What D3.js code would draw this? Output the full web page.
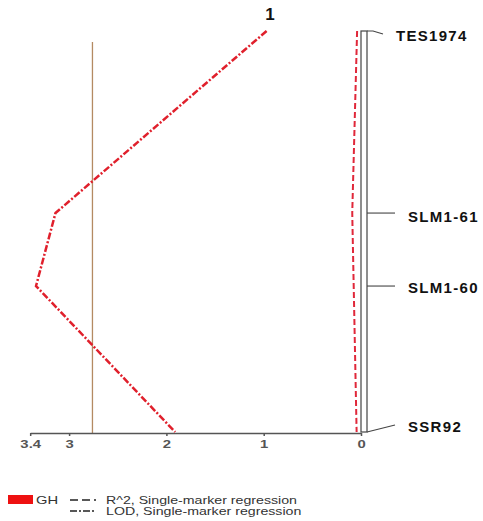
<!DOCTYPE html>
<html>
<head>
<meta charset="utf-8">
<script src="https://cdn.jsdelivr.net/npm/d3@7"></script>
<style>
	body{ margin: 0; background: #fff; }
	svg{ font-family: Arial, "Liberation Sans", sans-serif; }
	.marker-label{ font-weight: bold; font-size: 15px; letter-spacing: 1.3px; fill: #111; }
	.axis text{ font-size: 11px; font-weight: bold; fill: #555; }
	.axis path, .axis line{ stroke: #555; stroke-width: 1.5; }
	.legend text{ font-size: 10.5px; fill: #333; }
</style>
</head>
<body>
<div id="chart"></div>
<script>
	// linkage group 1, markers and map positions (cM)
	const markers = ['TES1974', 'SLM1-61', 'SLM1-60', 'SSR92'];
	const positions = [0, 45.4, 63.6, 100];
	// single-marker regression results for GH
	const lodValues = [0.97, 3.14, 3.34, 1.91];
	const r2Values = [0.04, 0.09, 0.075, 0.045];
	const lodThreshold = 2.76;
	const tickValues = [3.4, 3, 2, 1, 0];
	const tickLabels = ['3.4', '3', '2', '1', '0'];
	const groupName = '1';
	const traitName = 'GH';
	const legendLabels = ['R^2, Single-marker regression', 'LOD, Single-marker regression'];

	const width = 483, height = 521;
	const svg = d3.select('#chart').append('svg')
		.attr('width', width)
		.attr('height', height);

	// the picture is a little stretched sideways, widen text to match
	const stretch = (sel, k) => sel.each(function(){
		const w = this.getComputedTextLength();
		d3.select(this).attr('textLength', w * k).attr('lengthAdjust', 'spacingAndGlyphs');
	});

	let x = d3.scaleLinear().domain([0, 3.4]).range([361, 361 - 3.4 * 97.3]);
	let y = d3.scaleLinear().domain([0, 100]).range([31, 432]);
	const axisY = 433;

	// threshold line
	svg.append('line')
		.attr('x1', x(lodThreshold)).attr('x2', x(lodThreshold))
		.attr('y1', 42).attr('y2', axisY)
		.attr('stroke', '#b48a62')
		.attr('stroke-width', 1.3);

	// x axis
	const axis = d3.axisBottom(x)
		.tickValues(tickValues)
		.tickSize(3)
		.tickSizeOuter(0)
		.tickFormat((d, i) => tickLabels[i]);
	svg.append('g')
		.attr('class', 'axis')
		.attr('transform', `translate(0,${axisY})`)
		.call(axis)
		.call(g => g.selectAll('text').attr('dy', '0.85em').call(stretch, 1.35));

	// chromosome bar
	svg.append('rect')
		.attr('x', 361).attr('y', y(0))
		.attr('width', 6).attr('height', y(100) - y(0))
		.attr('fill', '#fff')
		.attr('stroke', '#444')
		.attr('stroke-width', 1.2);

	// marker leaders and names
	const last = markers.length - 1;
	const labelNudge = [5, 4, 2, -5];
	const labelY = (d, i) => y(positions[i]) + labelNudge[i];
	svg.append('g').selectAll('path')
		.data(markers).enter().append('path')
		.attr('d', (d, i) => {
			const my = y(positions[i]);
			if (i === 0) return `M367,${my}L373,${my}L383,${my + 3}`;
			if (i === last) return `M367,${my}L395,${my - 7}`;
			return `M367,${my}L395,${my}`;
		})
		.attr('fill', 'none')
		.attr('stroke', '#444')
		.attr('stroke-width', 1.1);
	svg.append('g').selectAll('text')
		.data(markers).enter().append('text')
		.attr('class', 'marker-label')
		.attr('x', (d, i) => (i === 0 ? 396 : 408))
		.attr('y', labelY)
		.attr('dy', '0.36em')
		.text(d => d);

	// R^2 curve
	const pts = markers.map((d, i) => ({ pos: positions[i], lod: lodValues[i], r2: r2Values[i] }));
	const r2Line = d3.line().x(d => x(d.r2)).y(d => y(d.pos));
	svg.append('path')
		.datum(pts)
		.attr('d', r2Line)
		.attr('fill', 'none')
		.attr('stroke', '#e0283a')
		.attr('stroke-width', 2)
		.attr('stroke-dasharray', '6,3');

	// LOD curve
	const lodLine = d3.line().x(d => x(d.lod)).y(d => y(d.pos));
	svg.append('path')
		.datum(pts)
		.attr('d', lodLine)
		.attr('fill', 'none')
		.attr('stroke', '#e0202c')
		.attr('stroke-width', 2.5)
		.attr('stroke-dasharray', '7,2,2,2');

	// group title
	svg.append('text')
		.attr('x', 270).attr('y', 20)
		.attr('text-anchor', 'middle')
		.attr('font-size', '17px')
		.attr('font-weight', 'bold')
		.attr('fill', '#111')
		.text(groupName);

	// legend
	const legend = svg.append('g').attr('class', 'legend');
	legend.append('rect')
		.attr('x', 8).attr('y', 495)
		.attr('width', 25).attr('height', 9)
		.attr('fill', '#ee1111');
	legend.append('text')
		.attr('x', 36).attr('y', 504)
		.text(traitName)
		.call(stretch, 1.4);
	const dashes = ['8,4', '7,2,2,2'];
	legendLabels.forEach((lab, i) => {
		const ly = 500 + i * 11;
		legend.append('line')
			.attr('x1', 70).attr('x2', 96)
			.attr('y1', ly).attr('y2', ly)
			.attr('stroke', '#222')
			.attr('stroke-width', 1.5)
			.attr('stroke-dasharray', dashes[i]);
		legend.append('text')
			.attr('x', 106).attr('y', ly + 4)
			.text(lab)
			.call(stretch, 1.35);
	});
</script>
</body>
</html>
